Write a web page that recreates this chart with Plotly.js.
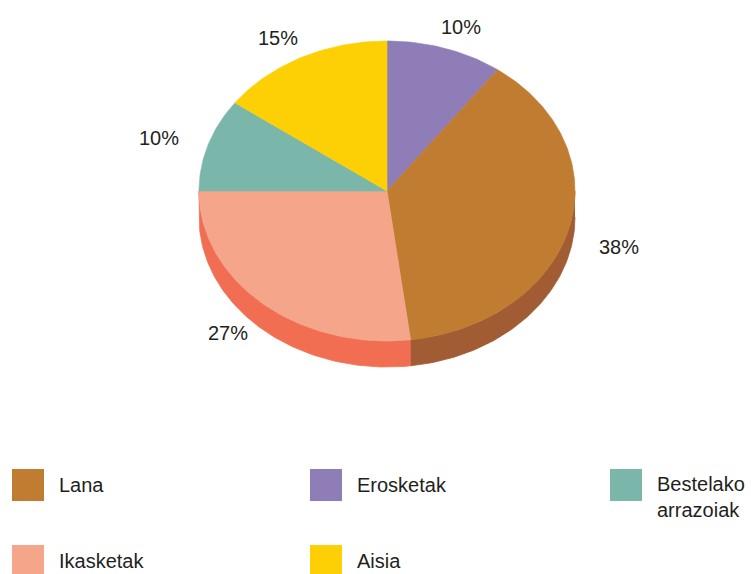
<!DOCTYPE html>
<html>
<head>
<meta charset="utf-8">
<script src="https://cdn.plot.ly/plotly-3.0.1.min.js"></script>
<style>html,body{margin:0;padding:0;background:#fff;}#chart{width:751px;height:574px;}</style>
</head>
<body>
<div id="chart"></div>
<script>
// Slices, clockwise from 12 o'clock
const categories = ['Erosketak', 'Lana', 'Ikasketak', 'Bestelako arrazoiak', 'Aisia'];
const values = [10, 38, 27, 10, 15];
const topColors = ['#8F7DB7', '#C07C31', '#F5A68A', '#7BB6AA', '#FDD005'];
const sideColors = ['#716296', '#A15C34', '#F26E53', '#5E9A8E', '#D8B100'];
// Legend order
const legendOrder = ['Lana', 'Erosketak', 'Bestelako arrazoiak', 'Ikasketak', 'Aisia'];
const legendText = ['Lana', 'Erosketak', 'Bestelako<br>arrazoiak', 'Ikasketak', 'Aisia'];

// geometry (pixel-space axes)
const W = 751, H = 574;
const cx = 387, cy = 191, rx = 188, ry = 150, depth = 26;
const labelRx = 240, labelRy = 172, labelDrop = 13;
const FONT = 'Liberation Sans, Arial, sans-serif';
const TXT = '#231F20';

const total = values.reduce((a, b) => a + b, 0);
const deg = Math.PI / 180;
function px(t) { return cx + rx * Math.sin(t * deg); }
function py(t) { return cy - ry * Math.cos(t * deg); }

const traces = [];
const annotations = [];
const shapes = [];

let start = 0;
const spans = values.map(v => { const a = start; start += v / total * 360; return [a, start]; });

// side walls (visible front half: 90..270 deg)
spans.forEach(([a, b], i) => {
  const lo = Math.max(a, 90), hi = Math.min(b, 270);
  if (hi <= lo) return;
  const xs = [], ys = [];
  const n = Math.max(2, Math.ceil(hi - lo));
  for (let k = 0; k <= n; k++) { const t = lo + (hi - lo) * k / n; xs.push(px(t)); ys.push(py(t)); }
  for (let k = n; k >= 0; k--) { const t = lo + (hi - lo) * k / n; xs.push(px(t)); ys.push(py(t) + depth); }
  traces.push({
    type: 'scatter', mode: 'lines', x: xs, y: ys, fill: 'toself',
    fillcolor: sideColors[i], line: { color: sideColors[i], width: 0.8 },
    hoverinfo: 'skip', showlegend: false
  });
});

// top faces + percentage labels
spans.forEach(([a, b], i) => {
  const xs = [cx], ys = [cy];
  const n = Math.max(2, Math.ceil(b - a));
  for (let k = 0; k <= n; k++) { const t = a + (b - a) * k / n; xs.push(px(t)); ys.push(py(t)); }
  xs.push(cx); ys.push(cy);
  traces.push({
    type: 'scatter', mode: 'lines', x: xs, y: ys, fill: 'toself',
    fillcolor: topColors[i], line: { color: topColors[i], width: 0.6 },
    name: categories[i], hoverinfo: 'name', showlegend: false
  });
  const mid = (a + b) / 2;
  const lx = cx + labelRx * Math.sin(mid * deg);
  let ly = cy - labelRy * Math.cos(mid * deg);
  if (Math.cos(mid * deg) < 0) ly += labelDrop;
  annotations.push({
    x: lx, y: ly, xref: 'x', yref: 'y', showarrow: false,
    text: Math.round(values[i] / total * 100) + '%',
    font: { family: FONT, size: 20, color: TXT },
    xanchor: 'center', yanchor: 'middle'
  });
});

// legend grid
const colX = [12, 310, 610], rowY = [469, 545];
legendOrder.forEach((name, j) => {
  const idx = categories.indexOf(name);
  const x0 = colX[j % 3], y0 = rowY[Math.floor(j / 3)];
  shapes.push({
    type: 'rect', xref: 'x', yref: 'y', x0: x0, x1: x0 + 32, y0: y0, y1: y0 + 32,
    fillcolor: topColors[idx], line: { width: 0 }, layer: 'above'
  });
  const lines = legendText[j].split('<br>').length;
  annotations.push({
    x: x0 + 45, y: y0 + 16 + (lines - 1) * 12, xref: 'x', yref: 'y', showarrow: false,
    text: legendText[j], align: 'left',
    font: { family: FONT, size: 20, color: TXT },
    xanchor: 'left', yanchor: 'middle'
  });
});

const layout = {
  width: W, height: H,
  margin: { l: 0, r: 0, t: 0, b: 0, pad: 0 },
  paper_bgcolor: '#fff', plot_bgcolor: '#fff',
  xaxis: { range: [0, W], visible: false, fixedrange: true },
  yaxis: { range: [H, 0], visible: false, fixedrange: true },
  showlegend: false,
  annotations: annotations,
  shapes: shapes
};

Plotly.newPlot('chart', traces, layout, { displayModeBar: false, staticPlot: true });
</script>
</body>
</html>
